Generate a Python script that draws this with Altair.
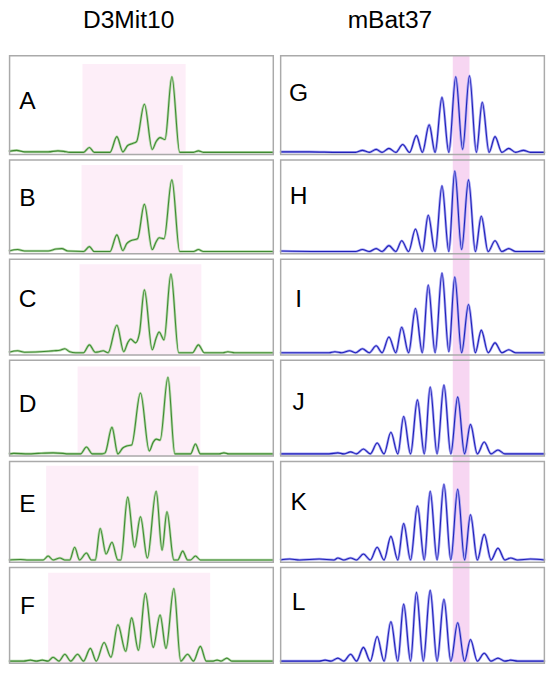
import altair as alt
import pandas as pd

# ---------------- data ----------------
# x = position along the trace (0-270), y = peak signal (0 = baseline)
left_title = "D3Mit10"
right_title = "mBat37"
left_letters = ["A", "B", "C", "D", "E", "F"]
right_letters = ["G", "H", "I", "J", "K", "L"]

trace_A = [(0,1),(8,2),(16,0.5),(40,0.5),(50,1.5),(56,1),(62,0),(76,0),(82,5),(87,0),(103,0),(110,16),(116,0.5),(121,7),(126,9),(130,11),(138,49),(146,3),(150,11),(154,15),(159,13),(166,77),(174,0),(188,0),(193,1.5),(198,0),(270,0)]
trace_B = [(0,0.5),(9,2),(16,0.5),(40,0.5),(48,2.5),(54,3),(60,0.5),(76,0),(82,5),(87,0),(103,0),(110,17),(116,1),(120,8),(124,11),(131,13),(138,48),(146,2),(150,10),(153,14),(158,13),(166,73),(174,0),(188,0),(193,2),(198,0),(270,0)]
trace_C = [(0,0.5),(9,2),(16,0.5),(40,1.5),(46,2),(52,2.5),(57,4),(62,1),(68,0),(76,0),(82,8),(88,0.5),(92,1),(96,2),(101,0),(110,28),(117,1),(121,10),(124,14),(129,10),(133,20),(138,64),(146,3),(150,15),(153,21),(158,13),(165,80),(173,0),(187,0),(193,8),(199,0),(218,0),(223,1),(230,0),(270,0)]
trace_D = [(0,0),(5,0.5),(20,0),(30,0.5),(45,1),(55,0.5),(60,0),(73,0),(79,7),(85,0),(95,0),(98,1),(105,27),(111,0),(116,6),(120,8),(125,9),(134,62),(143,3),(147,12),(150,15),(154,14),(162,78),(169,0),(185,0),(190,10),(195,0),(214,0),(219,1),(224,0),(270,0)]
trace_E = [(0,0),(12,0.5),(20,0),(35,0),(40,4),(45,0),(52,2),(57,0),(62,0),(67,13),(72,0),(79,7),(84,0),(88,0),(93,32),(99,6),(105,18),(111,0),(114,0),(121,64),(128,13),(134,44),(141,2),(150,70),(156,10),(161,49),(168,0),(172,0),(177,9),(182,0),(185,0),(190,4),(195,0),(270,0)]
trace_F = [(0,0),(15,0),(22,1),(28,0),(34,1),(40,0),(45,4),(51,0),(57,7),(63,0),(70,7),(76,0),(83,13),(89,0),(97,19),(104,4),(111,37),(119,10),(125,44),(132,11),(139,69),(147,14),(154,47),(160,13),(168,74),(175,0),(182,7),(188,0),(195,15),(201,0),(208,0),(212,1),(216,0),(222,3),(227,0),(270,0)]

trace_G = [(0,0.5),(30,0.5),(60,0),(77,0),(84,2),(91,0),(98,3),(104,0),(111,4),(118,0),(125,8),(132,0),(139,17),(145,0),(152,28),(158,0),(165,56),(172,0),(179,77),(186,3),(193,78),(200,0),(206,51),(213,0),(219,16),(226,0),(233,4),(240,0),(248,2),(255,0),(270,0)]
trace_H = [(0,0.5),(40,0),(77,0),(84,2),(91,0),(98,3),(104,0),(111,6),(118,0),(124,11),(131,0),(138,23),(145,0),(151,37),(158,0),(165,67),(172,0),(178,82),(185,2),(192,73),(199,0),(205,36),(212,0),(219,11),(226,0),(233,3),(240,0),(270,0)]
trace_I = [(0,0),(50,0),(56,1),(63,0),(71,2),(77,0),(84,4),(91,0),(98,7),(104,0),(111,16),(118,0),(124,26),(131,0),(138,45),(145,0),(151,69),(158,0),(165,81),(172,1),(178,77),(185,0),(192,49),(199,0),(205,23),(212,0),(219,10),(226,0),(233,3),(240,0),(270,0)]
trace_J = [(0,0),(50,0),(59,1),(65,0),(72,2),(78,0),(85,5),(92,0),(99,11),(106,0),(113,22),(120,0),(126,38),(133,0),(140,55),(147,0),(153,68),(160,0),(167,70),(174,0),(181,58),(188,0),(194,30),(201,0),(208,12),(215,0),(222,4),(229,0),(270,0)]
trace_K = [(0,0),(10,1),(20,0),(40,1),(55,0),(59,2),(65,0),(72,2),(78,0),(85,6),(92,0),(99,13),(106,0),(113,24),(120,0),(126,37),(133,0),(140,55),(147,0),(153,70),(160,0),(167,77),(174,0),(181,72),(188,0),(194,46),(201,0),(208,26),(215,0),(222,12),(229,0),(235,2),(242,0),(255,1),(270,0)]
trace_L = [(0,0),(40,0),(46,1),(52,0),(59,3),(65,0),(72,7),(78,0),(85,14),(92,0),(99,25),(106,0),(113,40),(120,0),(126,58),(133,0),(139,70),(146,0),(153,72),(160,0),(167,63),(174,0),(181,39),(188,0),(194,22),(201,0),(208,8),(215,0),(222,3),(229,0),(235,1),(242,0),(270,0)]

# shaded allele windows (start, end) on the same position axis
window_left = [(75, 180), (74, 177), (72, 196), (70, 195), (38, 193), (40, 205)]
window_right = [(176, 193)] * 6

left_traces = [trace_A, trace_B, trace_C, trace_D, trace_E, trace_F]
right_traces = [trace_G, trace_H, trace_I, trace_J, trace_K, trace_L]

# ---------------- layout / style ----------------
PW = 270
row_heights = [102, 97, 99, 99, 104, 99]
left_letter_y = [47, 40, 41, 45, 44, 40]
right_letter_y = [39, 38, 41, 43, 42, 36]
left_band_top = [9, 6, 6, 7, 5, 6]
FONT = "Liberation Sans"


def panel(trace, window, letter, height, letter_y, band_top, band_bottom,
          fill, halo, core, title=None, title_x=0):
    df = pd.DataFrame(trace, columns=["pos", "signal"])
    xs = alt.Scale(domain=[0, PW], nice=False, zero=False)
    ys = alt.Scale(domain=[-3, height - 3], nice=False, zero=False)
    band = alt.Chart(pd.DataFrame([window], columns=["start", "end"])).mark_rect(
        color=fill).encode(
        x=alt.X("start:Q", scale=xs, axis=None), x2="end:Q",
        y=alt.value(band_top), y2=alt.value(band_bottom))
    base = alt.Chart(df).encode(
        x=alt.X("pos:Q", scale=xs, axis=None),
        y=alt.Y("signal:Q", scale=ys, axis=None))
    l1 = base.mark_line(color=halo, strokeWidth=2.6, interpolate="monotone")
    l2 = base.mark_line(color=core, strokeWidth=1.1, interpolate="monotone")
    lab = alt.Chart(pd.DataFrame({"label": [letter]})).mark_text(
        font=FONT, fontSize=25, color="black", align="center", baseline="middle").encode(
        text="label:N", x=alt.value(19), y=alt.value(letter_y))
    border = alt.Chart(pd.DataFrame({"label": [letter]})).mark_rect(
        fill="transparent", stroke="#aaaaaa", strokeWidth=1.5).encode(
        x=alt.value(0.75), x2=alt.value(PW - 0.75),
        y=alt.value(0.75), y2=alt.value(height - 0.75))
    layers = [band, l1, l2, lab, border]
    if title is not None:
        layers.append(alt.Chart(pd.DataFrame({"t": [title]})).mark_text(
            font=FONT, fontSize=25, color="black", align="center",
            baseline="alphabetic").encode(
            text="t:N", x=alt.value(title_x), y=alt.value(-28)))
    return alt.layer(*layers).properties(width=PW, height=height)


panels = []
for i in range(6):
    h = row_heights[i]
    panels.append(panel(
        left_traces[i], window_left[i], left_letters[i], h,
        left_letter_y[i], left_band_top[i], h,
        "#fdeef8", "#b5d8aa", "#3f8a32",
        title=left_title if i == 0 else None, title_x=122))
    panels.append(panel(
        right_traces[i], window_right[i], right_letters[i], h,
        right_letter_y[i], -3 if i > 0 else 0, h + (3 if i < 5 else 0),
        "#f7d6f2", "#a4a4f2", "#2020b8",
        title=right_title if i == 0 else None, title_x=112))

chart = alt.concat(*panels, columns=2, spacing={"row": 4, "column": 6},
                   bounds="flush").properties(
    padding={"left": 3, "top": 2, "right": 0, "bottom": 0},
    background="white",
).configure_view(stroke=None)

chart.save("out.html", embed_options={"renderer": "svg", "actions": False})
